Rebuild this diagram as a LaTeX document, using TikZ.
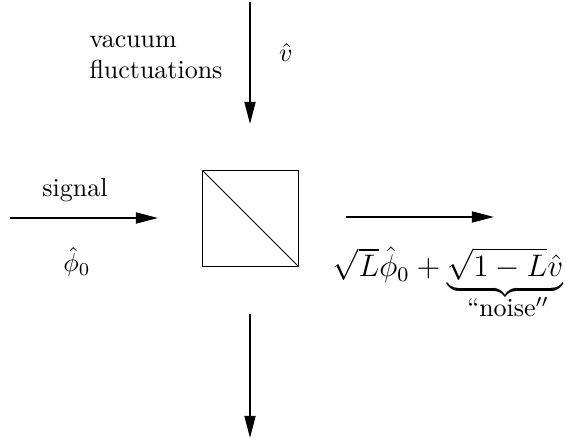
\documentclass[tikz,border=0pt]{standalone}
\usetikzlibrary{arrows.meta}
\begin{document}
\begin{tikzpicture}[x=0.385pt,y=-0.385pt,
  beam/.style={line width=0.8pt,-{Triangle[length=8.5pt,width=4.2pt]}}]
\useasboundingbox (0,0) rectangle (566,440);
% beam splitter
\node[draw,line width=0.4pt,minimum size=36.6pt,inner sep=0pt] (bs) at (250.5,218.5) {};
\draw[line width=0.4pt] (bs.north west) -- (bs.south east);
% beams
\coordinate (vin) at (250,2);
\coordinate (vend) at (250,124);
\coordinate (sin) at (10,218);
\coordinate (send) at (158,218);
\coordinate (oin) at (346,217);
\coordinate (oend) at (494,217);
\coordinate (rin) at (250,314);
\coordinate (rend) at (250,438);
\draw[beam] (vin) -- (vend);
\draw[beam] (sin) -- (send);
\draw[beam] (oin) -- (oend);
\draw[beam] (rin) -- (rend);
% labels
\node[anchor=west,align=left,inner sep=0pt] (vac) at (89,57) {vacuum\\fluctuations};
\node (vhat) at (286,52) {$\hat{v}$};
\node (sig) at (75,190) {signal};
\node (phi) at (77,262) {$\hat{\phi}_0$};
\node[anchor=base,inner sep=0pt,font=\fontsize{11.5}{14}\selectfont] (out) at (448,277)
  {$\sqrt{L}\hat{\phi}_0+\underbrace{\sqrt{1-L}\hat{v}}$};
\node[inner sep=0pt] (noise) at (508,307) {``noise$''$};
\end{tikzpicture}
\end{document}
